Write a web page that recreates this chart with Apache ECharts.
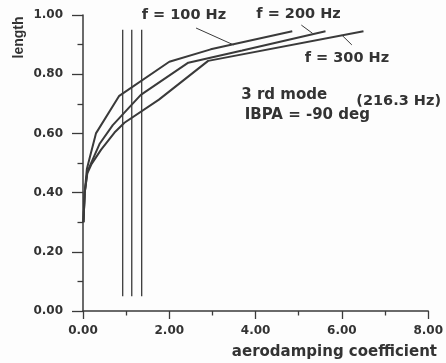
<!DOCTYPE html>
<html>
<head>
<meta charset="utf-8">
<script src="https://cdn.jsdelivr.net/npm/echarts@6/dist/echarts.min.js"></script>
<style>html,body{margin:0;padding:0;background:#fdfdfd;}#c{width:446px;height:363px;}</style>
</head>
<body>
<div id="c"></div>
<script>
// Data (x = aerodamping coefficient, y = length)
const curve100 = [[0.01,0.30],[0.04,0.40],[0.09,0.48],[0.16,0.52],[0.30,0.60],[0.84,0.727],[2.0,0.842],[2.96,0.884],[4.85,0.945]];
const curve200 = [[0.01,0.30],[0.04,0.40],[0.10,0.47],[0.20,0.504],[0.39,0.566],[0.69,0.628],[1.34,0.73],[2.44,0.839],[3.69,0.88],[5.62,0.945]];
const curve300 = [[0.01,0.30],[0.04,0.40],[0.10,0.465],[0.20,0.497],[0.42,0.545],[0.73,0.603],[0.96,0.636],[1.76,0.714],[2.9,0.845],[6.5,0.945]];
const vlineX = [0.92, 1.13, 1.36];
const vlineY = [0.05, 0.95];
const leader100 = [[2.62,0.956],[3.49,0.899]];
const leader200 = [[5.06,0.966],[5.32,0.938]];
const leader300 = [[6.0,0.932],[6.23,0.899]];
const xTicks = {min:0, max:8, interval:2};
const yTicks = {min:0, max:1, interval:0.2};

const ink = '#333333';
const lineCol = '#3a3a3a';
const font = '"DejaVu Sans", sans-serif';

const series = [];
[curve100, curve200, curve300].forEach(d => series.push({
  type:'line', data:d, symbol:'none', lineStyle:{color:lineCol, width:2}, animation:false, z:3
}));
vlineX.forEach(x => series.push({
  type:'line', data:vlineY.map(y=>[x,y]), symbol:'none', lineStyle:{color:lineCol, width:1.3}, animation:false
}));
[leader100, leader200, leader300].forEach(d => series.push({
  type:'line', data:d, symbol:'none', lineStyle:{color:lineCol, width:1}, animation:false
}));

const chart = echarts.init(document.getElementById('c'), null, {renderer:'canvas'});
chart.setOption({
  backgroundColor:'#fdfdfd',
  animation:false,
  grid:{left:83, right:12.3, top:15, bottom:52, containLabel:false},
  xAxis:{
    type:'value', min:xTicks.min, max:xTicks.max, interval:xTicks.interval,
    axisLine:{show:true, onZero:false, lineStyle:{color:lineCol, width:1.5}},
    axisTick:{show:true, inside:false, length:8, lineStyle:{color:lineCol, width:1.3}},
    minorTick:{show:true, splitNumber:2, length:4.5, lineStyle:{color:lineCol, width:1.3}},
    splitLine:{show:false},
    axisLabel:{color:ink, fontFamily:font, fontWeight:'bold', fontSize:12, margin:14,
      formatter:v=>v.toFixed(2)}
  },
  yAxis:{
    type:'value', min:yTicks.min, max:yTicks.max, interval:yTicks.interval,
    axisLine:{show:true, onZero:false, lineStyle:{color:lineCol, width:1.5}},
    axisTick:{show:true, inside:false, length:11, lineStyle:{color:lineCol, width:1.3}},
    minorTick:{show:true, splitNumber:2, length:5.5, lineStyle:{color:lineCol, width:1.3}},
    splitLine:{show:false},
    axisLabel:{color:ink, fontFamily:font, fontWeight:'bold', fontSize:12, margin:20,
      formatter:v=>v.toFixed(2)}
  },
  series:series,
  graphic:[
    {type:'text', x:19, y:37.5, rotation:Math.PI/2, style:{text:'length', font:'bold 14px "Liberation Sans", Arial, sans-serif', fill:ink, textAlign:'center', textVerticalAlign:'middle'}},
    {type:'text', x:437, y:352, style:{text:'aerodamping coefficient', font:'bold 15px '+font, fill:ink, textAlign:'right', textVerticalAlign:'middle'}},
    {type:'text', x:141.7, y:15.5, style:{text:'f = 100 Hz', font:'bold 14.5px '+font, fill:ink, textAlign:'left', textVerticalAlign:'middle'}},
    {type:'text', x:256.3, y:14.5, style:{text:'f = 200 Hz', font:'bold 14.5px '+font, fill:ink, textAlign:'left', textVerticalAlign:'middle'}},
    {type:'text', x:304.7, y:58.5, style:{text:'f = 300 Hz', font:'bold 14.5px '+font, fill:ink, textAlign:'left', textVerticalAlign:'middle'}},
    {type:'text', x:241.3, y:95.5, style:{text:'3 rd mode', font:'bold 15px '+font, fill:ink, textAlign:'left', textVerticalAlign:'middle'}},
    {type:'text', x:356.3, y:101, style:{text:'(216.3 Hz)', font:'bold 14.5px '+font, fill:ink, textAlign:'left', textVerticalAlign:'middle'}},
    {type:'text', x:244.7, y:115, style:{text:'IBPA = -90 deg', font:'bold 15px '+font, fill:ink, textAlign:'left', textVerticalAlign:'middle'}}
  ]
});
</script>
</body>
</html>
